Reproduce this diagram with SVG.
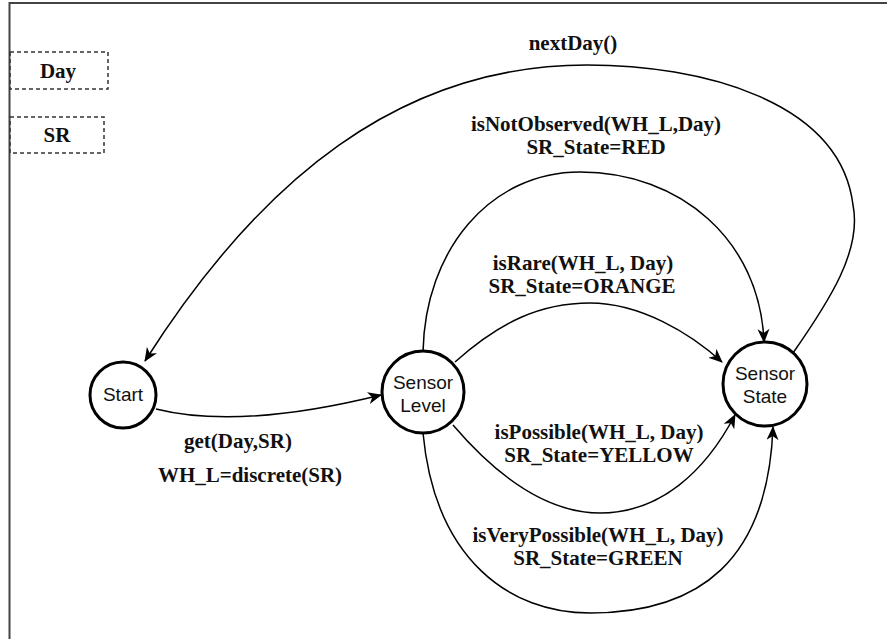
<svg xmlns="http://www.w3.org/2000/svg" width="887" height="639" viewBox="0 0 887 639">
<defs>
<style>
.frame{stroke:#444;stroke-width:2;fill:none}
.var{fill:none;stroke:#333;stroke-width:1.5;stroke-dasharray:4 3}
.state{fill:#fff;stroke:#000;stroke-width:3}
.ntext{font-family:"Liberation Sans",Arial,sans-serif;font-size:19px;fill:#111;text-anchor:middle}
.lbl{font-family:"Liberation Serif","Times New Roman",serif;font-weight:bold;font-size:21px;fill:#111;text-anchor:middle}
.edge{fill:none;stroke:#000;stroke-width:1.5;marker-end:url(#arr)}
</style>
<marker id="arr" markerUnits="userSpaceOnUse" viewBox="0 0 14 12" refX="13" refY="6" markerWidth="14" markerHeight="12" orient="auto">
<path d="M0,0 L14,6 L0,12 L4,6 Z" fill="#000"/>
</marker>
</defs>
<rect width="887" height="639" fill="#fff"/>
<g id="frame">
<path class="frame" d="M9.5,639 L9.5,3 L887,3"/>
</g>
<g id="var-day">
<rect class="var" x="10" y="52" width="98" height="37"/>
<text class="lbl" x="58" y="78">Day</text>
</g>
<g id="var-sr">
<rect class="var" x="10" y="117" width="94" height="36"/>
<text class="lbl" x="57" y="142">SR</text>
</g>
<g id="connectors">
<path id="e-nextday" class="edge" d="M793,353 C830,300 862,250 853,205 C840,100 700,65 587,65 C400,65 260,180 145,361"/>
<path id="e-get" class="edge" d="M156,409 C220,425 300,415 381,395"/>
<path id="e-red" class="edge" d="M423,352 C425,250 490,172 580,172 C680,172 760,240 764,342"/>
<path id="e-orange" class="edge" d="M455,362 C500,322 540,303 590,303 C640,303 690,333 722,362"/>
<path id="e-yellow" class="edge" d="M453,425 C500,480 550,513 600,513 C660,513 705,472 735,415"/>
<path id="e-green" class="edge" d="M423,433 C435,560 510,613 590,613 C700,613 768,560 773,427"/>
<text class="lbl" x="573" y="50">nextDay()</text>
<text class="lbl" x="596" y="131">isNotObserved(WH_L,Day)</text>
<text class="lbl" x="596" y="154">SR_State=RED</text>
<text class="lbl" x="583" y="270">isRare(WH_L, Day)</text>
<text class="lbl" x="582" y="293">SR_State=ORANGE</text>
<text class="lbl" x="599" y="439">isPossible(WH_L, Day)</text>
<text class="lbl" x="599" y="462">SR_State=YELLOW</text>
<text class="lbl" x="598" y="542">isVeryPossible(WH_L, Day)</text>
<text class="lbl" x="598" y="565">SR_State=GREEN</text>
<text class="lbl" x="238" y="448">get(Day,SR)</text>
<text class="lbl" x="250" y="482">WH_L=discrete(SR)</text>
</g>
<g id="node-start">
<circle class="state" cx="123" cy="395" r="33"/>
<text class="ntext" x="123" y="401">Start</text>
</g>
<g id="node-sensor-level">
<circle class="state" cx="423" cy="392" r="41"/>
<text class="ntext" x="423" y="389">Sensor</text>
<text class="ntext" x="423" y="412">Level</text>
</g>
<g id="node-sensor-state">
<circle class="state" cx="765" cy="384" r="42"/>
<text class="ntext" x="765" y="380">Sensor</text>
<text class="ntext" x="765" y="403">State</text>
</g>
</svg>
